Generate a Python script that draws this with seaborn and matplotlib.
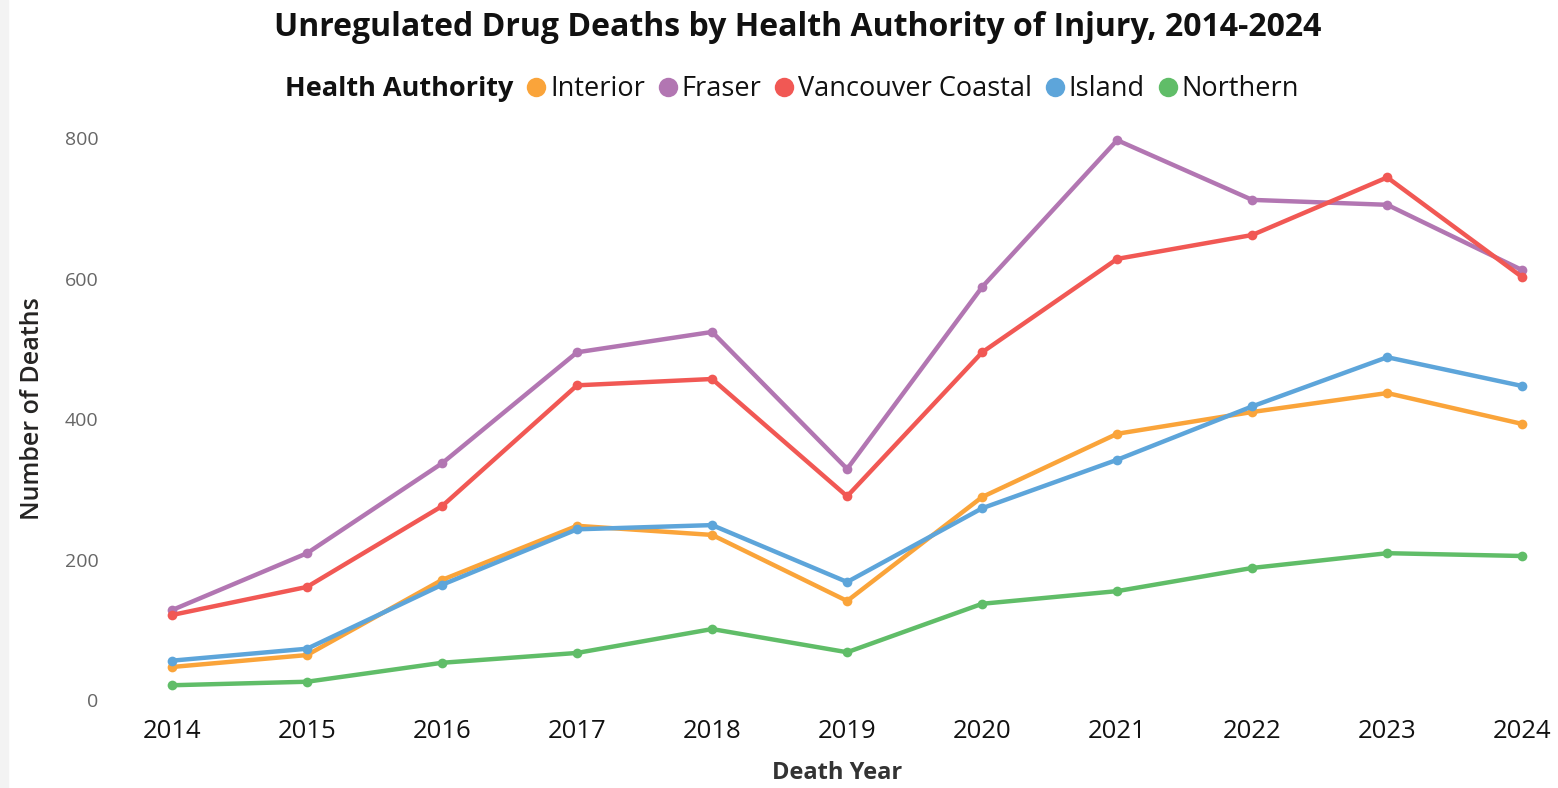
import matplotlib
matplotlib.use("Agg")
import matplotlib.pyplot as plt
import seaborn as sns
import pandas as pd
from matplotlib.lines import Line2D
from matplotlib.patches import Rectangle

years = [2014, 2015, 2016, 2017, 2018, 2019, 2020, 2021, 2022, 2023, 2024]
authorities = ["Interior", "Fraser", "Vancouver Coastal", "Island", "Northern"]
interior = [47, 64, 171, 248, 235, 141, 289, 379, 410, 437, 393]
fraser = [128, 209, 337, 495, 524, 329, 588, 797, 712, 705, 612]
vancouver_coastal = [121, 161, 276, 448, 457, 290, 495, 628, 662, 744, 602]
island = [56, 73, 164, 243, 249, 168, 273, 342, 418, 488, 447]
northern = [21, 26, 53, 67, 101, 68, 137, 155, 188, 209, 205]
colors = ["#FAA43A", "#B276B2", "#F15854", "#5DA5DA", "#60BD68"]

series = [interior, fraser, vancouver_coastal, island, northern]
rows = []
for name, vals in zip(authorities, series):
    for y, v in zip(years, vals):
        rows.append({"Death Year": y, "Deaths": v, "Health Authority": name})
df = pd.DataFrame(rows)

sns.set_style("white")
plt.rcParams["font.family"] = ["Open Sans", "DejaVu Sans"]

fig = plt.figure(figsize=(15.58, 7.88), dpi=100)
fig.patches.append(Rectangle((0, 0), 8 / 1558, 1, transform=fig.transFigure,
                             color="#F3F3F3", zorder=0))
ax = fig.add_axes([118 / 1558, 88 / 788, (1556 - 118) / 1558, (700 - 117) / 788])

palette = dict(zip(authorities, colors))
sns.lineplot(data=df, x="Death Year", y="Deaths", hue="Health Authority",
             hue_order=authorities, palette=palette, ax=ax, linewidth=3.2,
             marker="o", markersize=7, markeredgewidth=0, legend=False)
for ln in ax.lines:
    ln.set_clip_on(False)

ax.set_xlim(2013.6, 2024.25)
ax.set_ylim(0, 830)
ax.set_xticks(years)
ax.set_xticklabels([str(y) for y in years], fontsize=18.5, color="#111111")
ax.set_yticks([0, 200, 400, 600, 800])
ax.set_yticklabels(["0", "200", "400", "600", "800"], fontsize=14, color="#666666")
ax.tick_params(axis="x", length=0, pad=14)
ax.tick_params(axis="y", length=0, pad=14)
for s in ax.spines.values():
    s.set_visible(False)
ax.grid(False)

ax.set_xlabel("Death Year", fontsize=17, fontweight="bold", color="#333333", labelpad=12)
ax.set_ylabel("Number of Deaths", fontsize=18, fontweight="semibold", color="#252423", labelpad=14)

fig.suptitle("Unregulated Drug Deaths by Health Authority of Injury, 2014-2024",
             x=798 / 1558, y=1 - 27 / 788, va="center", fontsize=23, fontweight="bold",
             color="#111111")

handles = [Line2D([], [], linestyle="none")]
handles += [Line2D([], [], linestyle="none", marker="o", markersize=14,
                   markerfacecolor=c, markeredgewidth=0) for c in colors]
labels = ["Health Authority"] + authorities
leg = fig.legend(handles, labels, loc="center", bbox_to_anchor=(781 / 1558, 1 - 89 / 788),
                 ncol=6, frameon=False, fontsize=19.5, handlelength=0.6,
                 handletextpad=0.2, columnspacing=0.55, borderaxespad=0)
for t in leg.get_texts():
    t.set_color("#111111")
leg.get_texts()[0].set_fontweight("bold")

fig.savefig("out.png", dpi=100, facecolor="white")
